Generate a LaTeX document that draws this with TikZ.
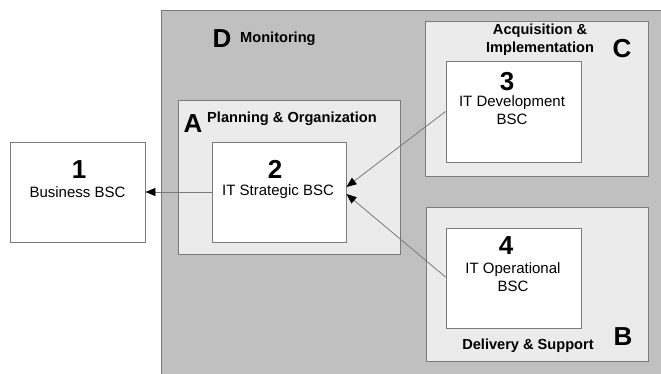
\documentclass[tikz,border=0pt]{standalone}
\usepackage{fontspec}
\setmainfont{Liberation Sans}
\usetikzlibrary{arrows.meta}
\definecolor{dgray}{HTML}{C0C0C0}
\definecolor{lgray}{HTML}{EBEBEB}
\definecolor{edge}{HTML}{7A7A7A}
\tikzset{
  grp/.style={draw=edge, line width=0.9pt},
  bsc/.style={draw=edge, line width=0.9pt, fill=white, minimum width=135pt, minimum height=100pt, inner sep=0pt},
  num/.style={font=\fontsize{26}{28}\selectfont\bfseries, inner sep=0pt, anchor=base},
  letter/.style={font=\fontsize{26}{28}\selectfont\bfseries, inner sep=0pt, anchor=base},
  txt/.style={font=\fontsize{15}{18}\selectfont, align=center, inner sep=0pt, anchor=base},
  head/.style={font=\fontsize{14.6}{18}\selectfont\bfseries, align=center, inner sep=0pt, anchor=base},
  conn/.style={draw=edge, line width=0.8pt, -{Triangle[length=10pt,width=8pt,color=black]}}
}
\begin{document}
\begin{tikzpicture}[x=1pt,y=-1pt]
\useasboundingbox (0,0) rectangle (661,374);
\fill[white] (0,0) rectangle (661,374);
% D: Monitoring
\draw[grp, fill=dgray] (161,10) rectangle (680,390);
\node[letter] (Dl) at (222,48) {D};
\node[head, anchor=base west] (Dt) at (240,43) {Monitoring};
% A: Planning & Organization
\draw[grp, fill=lgray] (178,100) rectangle (400,254);
\node[letter] (Al) at (193,133) {A};
\node[head, anchor=base west] (At) at (207,123) {Planning \& Organization};
% C: Acquisition & Implementation
\draw[grp, fill=lgray] (425,21) rectangle (648,176);
\node[head] (Ct) at (540,53) {Acquisition \&\\Implementation};
\node[letter] (Cl) at (622,58) {C};
% B: Delivery & Support
\draw[grp, fill=lgray] (426,207) rectangle (648,361);
\node[head] (Bt) at (528,349) {Delivery \& Support};
\node[letter] (Bl) at (623,345) {B};
% BSC boxes
\node[bsc] (b1) at (77.5,192) {};
\node[num] (n1) at (79,179) {1};
\node[txt] (t1) at (77.5,197) {Business BSC};
\node[bsc, minimum width=134pt] (b2) at (279,192) {};
\node[num] (n2) at (275,179) {2};
\node[txt] (t2) at (278,196) {IT Strategic BSC};
\node[bsc, minimum height=101pt] (b3) at (513.5,111.5) {};
\node[num] (n3) at (507,91) {3};
\node[txt] (t3) at (512,125) {IT Development\\BSC};
\node[bsc] (b4) at (513.5,278) {};
\node[num] (n4) at (506,254) {4};
\node[txt] (t4) at (513,291) {IT Operational\\BSC};
% connectors
\draw[conn] (b2.west) -- (b1.east);
\draw[conn] (b3.west) -- ([yshift=5pt]b2.east);
\draw[conn] ([yshift=1pt]b4.west) -- ([yshift=-2pt]b2.east);
\end{tikzpicture}
\end{document}
